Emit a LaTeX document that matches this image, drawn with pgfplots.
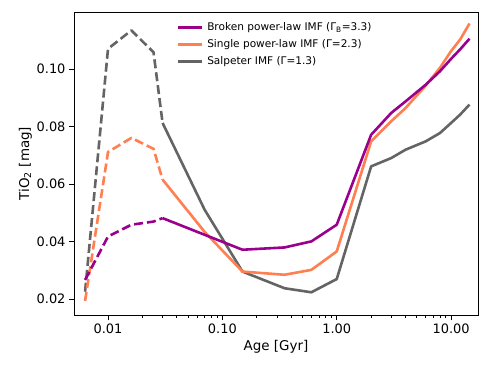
\documentclass[border=0pt]{standalone}
\usepackage{pgfplots}
\pgfplotsset{compat=1.18}
\usepackage{fontspec}
\setmainfont{DejaVu Sans}
\definecolor{cbroken}{RGB}{153,0,140}
\definecolor{csingle}{RGB}{255,127,80}
\definecolor{csalp}{RGB}{100,100,100}
\begin{document}
\begin{tikzpicture}
\begin{axis}[
    scale only axis,
    width=404bp, height=303bp,
    xmode=log,
    xmin=0.00504, xmax=17.2,
    ymin=0.0144, ymax=0.1198,
    xtick={0.01,0.1,1,10},
    xticklabels={0.01,0.10,1.00,10.00},
    ytick={0.02,0.04,0.06,0.08,0.10},
    yticklabels={0.02,0.04,0.06,0.08,0.10},
    tick align=outside,
    tick pos=left,
    major tick length=5bp,
    minor tick length=3bp,
    every tick/.style={black, line width=0.8bp},
    axis line style={line width=0.9bp},
    tick label style={font=\fontsize{13}{15}\selectfont},
    label style={font=\fontsize{13.5}{16}\selectfont},
    xlabel={Age [Gyr]},
    ylabel={TiO\textsubscript{2} [mag]},
    xlabel style={yshift=0bp},
    ylabel style={yshift=-2bp},
    legend style={at={(0.245,0.978)}, anchor=north west, draw=none, fill=none,
        font=\fontsize{10.6}{12}\selectfont, row sep=3.5bp},
    legend cell align=left,
    legend image code/.code={\draw[#1, line width=3bp, solid] (0cm,0cm) -- (0.85cm,0cm);},
    every axis plot/.append style={line width=2.6bp, line join=round},
]
\coordinate (bl) at (rel axis cs:0,0);
\coordinate (tr) at (rel axis cs:1,1);
% legend entries (solid)
\addlegendimage{cbroken}
\addlegendentry{\hspace{2bp}Broken power-law IMF (Γ\textsubscript{B}=3.3)}
\addlegendimage{csingle}
\addlegendentry{\hspace{2bp}Single power-law IMF (Γ=2.3)}
\addlegendimage{csalp}
\addlegendentry{\hspace{2bp}Salpeter IMF (Γ=1.3)}

% Salpeter
\addplot[csalp, dashed, dash pattern=on 9bp off 4bp, forget plot] coordinates {
(0.0063,0.0225) (0.01,0.1070) (0.016,0.1134) (0.025,0.1058) (0.03,0.0812)};
\addplot[csalp, forget plot] coordinates {
(0.03,0.0812) (0.07,0.0510) (0.15,0.0295) (0.35,0.0237) (0.6,0.0223) (1.0,0.0269)
(2.0,0.0661) (3.0,0.0690) (4.0,0.0719) (6.0,0.0748) (8.0,0.0777) (10.0,0.0812)
(12.0,0.0841) (14.5,0.0876)};
% single power-law
\addplot[csingle, dashed, dash pattern=on 9bp off 4bp, forget plot] coordinates {
(0.0063,0.0193) (0.01,0.0711) (0.016,0.0760) (0.025,0.0722) (0.03,0.0615)};
\addplot[csingle, forget plot] coordinates {
(0.03,0.0615) (0.07,0.0433) (0.15,0.0295) (0.35,0.0284) (0.6,0.0301) (1.0,0.0365)
(2.0,0.0748) (3.0,0.0818) (4.0,0.0864) (6.0,0.0942) (8.0,0.1004) (10.0,0.1062)
(12.0,0.1102) (14.5,0.1158)};
% broken power-law
\addplot[cbroken, dashed, dash pattern=on 9bp off 4bp, forget plot] coordinates {
(0.0063,0.0266) (0.01,0.0417) (0.016,0.0458) (0.025,0.0469) (0.03,0.0481)};
\addplot[cbroken, forget plot] coordinates {
(0.03,0.0481) (0.07,0.0423) (0.15,0.0371) (0.35,0.0379) (0.6,0.0400) (1.0,0.0458)
(2.0,0.0771) (3.0,0.0847) (4.0,0.0887) (6.0,0.0945) (8.0,0.0992) (10.0,0.1035)
(12.0,0.1068) (14.5,0.1105)};
\end{axis}
\pgfresetboundingbox
\path ([shift={(-74bp,-53bp)}]bl) rectangle ([shift={(12bp,12bp)}]tr);
\end{tikzpicture}
\end{document}
